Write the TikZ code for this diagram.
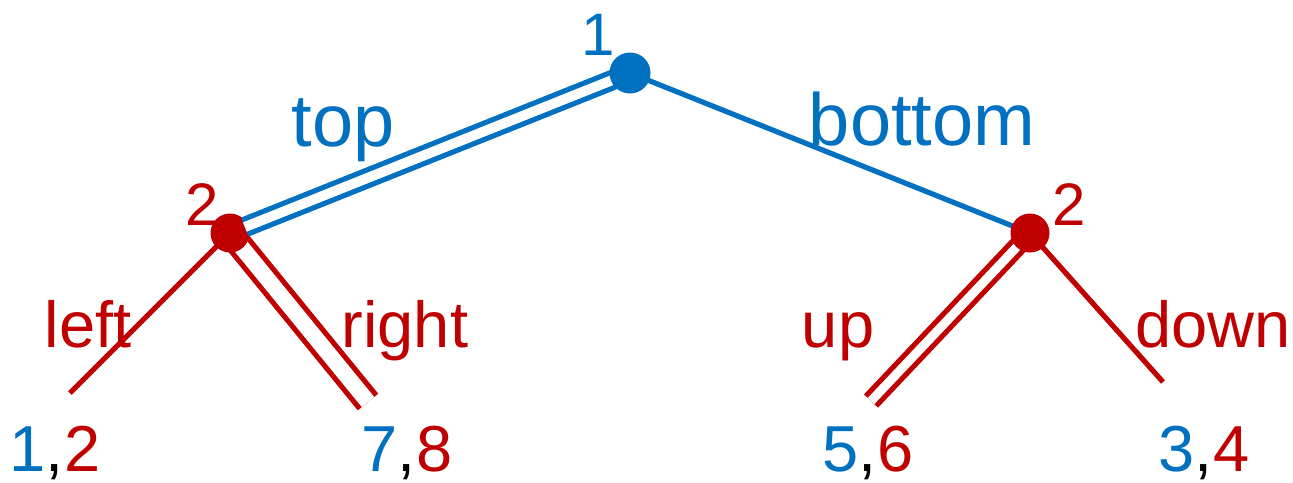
\documentclass[tikz,border=0pt]{standalone}
\usepackage{fontspec}
\setmainfont{Liberation Sans}
\definecolor{pblue}{HTML}{0070C0}
\definecolor{pred}{HTML}{C00000}
\begin{document}
\begin{tikzpicture}[x=0.5pt,y=-0.5pt,
  edge/.style={line width=2.6pt},
  dbl/.style={line width=2.6pt, double=white, double distance=#1},
  dot/.style={circle, fill=#1, inner sep=0pt, minimum size=19.5pt},
  lbl/.style={inner sep=0pt, anchor=base},
  big/.style={font=\fontsize{37}{40}\selectfont},
  mid/.style={font=\fontsize{32.5}{36}\selectfont},
  sml/.style={font=\fontsize{30}{34}\selectfont},
]
\useasboundingbox (0,0) rectangle (1293,482);

% positions of decision nodes and leaves
\coordinate (R) at (630,73);
\coordinate (L) at (230,233);
\coordinate (Q) at (1030,233);
\coordinate (ll) at (70,393);
\coordinate (lr) at (368,402);
\coordinate (ru) at (871,401);
\coordinate (rd) at (1163,382);

% player 2 branches
\draw[edge, pred] (L) -- (ll);
\draw[dbl=8pt, pred] (L) -- (lr);
\draw[dbl=4.5pt, pred] (Q) -- (ru);
\draw[edge, pred] (Q) -- (rd);

% player 1 branch bottom
\draw[edge, pblue] (R) -- (Q);

% player 2 dots
\node[dot=pred] (n2a) at (L) {};
\node[dot=pred] (n2b) at (Q) {};

% player 1 branch top (double)
\draw[dbl=5pt, pblue, shorten >=8pt] (R) -- (n2a.center);

% root dot
\node[dot=pblue, minimum size=20.5pt] (n1) at (R) {};

% node labels
\node[lbl, sml, text=pblue] (t1) at (598,55) {1};
\node[lbl, sml, text=pred] (t2a) at (202,225) {2};
\node[lbl, sml, text=pred] (t2b) at (1069,225) {2};

% branch labels
\node[lbl, big, text=pblue] (btop) at (343,146) {top};
\node[lbl, big, text=pblue] (bbot) at (922,145) {bottom};
\node[lbl, mid, text=pred] (bleft) at (88,347) {left};
\node[lbl, mid, text=pred] (bright) at (405,347) {right};
\node[lbl, mid, text=pred] (bup) at (838,347) {up};
\node[lbl, mid, text=pred] (bdown) at (1213,347) {down};

% payoffs
\node[lbl, mid] (p1) at (55,471) {\textcolor{pblue}{1},\textcolor{pred}{2}};
\node[lbl, mid] (p2) at (407,471) {\textcolor{pblue}{7},\textcolor{pred}{8}};
\node[lbl, mid] (p3) at (868,471) {\textcolor{pblue}{5},\textcolor{pred}{6}};
\node[lbl, mid] (p4) at (1204,471) {\textcolor{pblue}{3},\textcolor{pred}{4}};
\end{tikzpicture}
\end{document}
